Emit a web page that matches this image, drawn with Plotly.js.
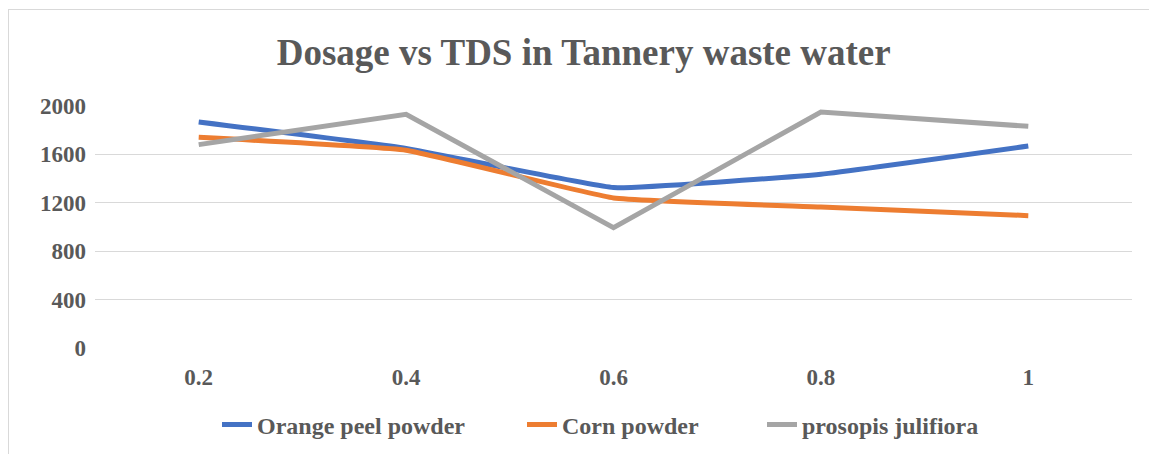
<!DOCTYPE html>
<html>
<head>
<meta charset="utf-8">
<script src="https://cdn.plot.ly/plotly-3.0.1.min.js"></script>
<style>
  html, body { margin: 0; padding: 0; background: #fff; overflow: hidden; }
  #wrap { position: relative; width: 1149px; height: 454px; }
  #frame { position: absolute; left: 8px; top: 9px; width: 1200px; height: 500px; border: 1px solid #d9d9d9; box-sizing: border-box; pointer-events: none; }
  #chart { position: absolute; left: 0; top: 0; width: 1149px; height: 454px; }
</style>
</head>
<body>
<div id="wrap">
  <div id="chart"></div>
  <div id="frame"></div>
</div>
<script>
const dosage = ['0.2', '0.4', '0.6', '0.8', '1'];
const orangePeel = [1868, 1650, 1326, 1436, 1669];
const cornPowder = [1741, 1634, 1240, 1165, 1094];
const prosopis = [1681, 1931, 995, 1950, 1832];
const seriesNames = ['Orange peel powder', 'Corn powder', 'prosopis julifiora'];
const yTicks = [0, 400, 800, 1200, 1600, 2000];

const font = '"Liberation Serif", "Times New Roman", serif';
const txt = '#595959';
const b = s => '<b>' + s + '</b>';

const traces = [
  { x: dosage, y: orangePeel, name: b(seriesNames[0]), type: 'scatter', mode: 'lines', legend: 'legend',
    line: { color: '#4472C4', width: 5, shape: 'spline', smoothing: 0.3 } },
  { x: dosage, y: cornPowder, name: b(seriesNames[1]), type: 'scatter', mode: 'lines', legend: 'legend2',
    line: { color: '#ED7D31', width: 5, shape: 'spline', smoothing: 0.3 } },
  { x: dosage, y: prosopis, name: b(seriesNames[2]), type: 'scatter', mode: 'lines', legend: 'legend3',
    line: { color: '#A5A5A5', width: 5 } }
];

const W = 1149, H = 454;
const plotL = 95, plotW = 1037, plotT = 106, plotH = 242;
const cx = px => px / W;
const cy = py => 1 - py / H;
const legFont = { family: font, size: 24, color: txt };
const legBase = { orientation: 'h', xanchor: 'left', yanchor: 'middle', xref: 'container', yref: 'container',
  font: legFont, bgcolor: 'rgba(0,0,0,0)' };
const legendY = cy(425);

const layout = {
  width: W, height: H,
  margin: { l: plotL, r: W - plotL - plotW, t: plotT, b: H - plotT - plotH, autoexpand: false },
  paper_bgcolor: 'rgba(0,0,0,0)',
  plot_bgcolor: 'rgba(0,0,0,0)',
  font: { family: font, color: txt, size: 23 },
  title: { text: b('Dosage vs TDS in Tannery waste water'), font: { family: font, size: 37, color: txt },
    x: 0.508, xanchor: 'center', y: cy(52), yanchor: 'middle', yref: 'container' },
  xaxis: { type: 'category', range: [-0.5, 4.5], showgrid: false, zeroline: false, showline: false,
    ticks: '', tickfont: { family: font, size: 23, color: txt }, ticklabelstandoff: 13,
    tickprefix: '<b>', ticksuffix: '</b>' },
  yaxis: { range: [0, 2000], tickvals: yTicks, ticktext: yTicks.map(v => b(v)),
    showgrid: true, gridcolor: '#d9d9d9', gridwidth: 1.3, zeroline: false, showline: false,
    ticks: '', tickfont: { family: font, size: 23, color: txt }, ticklabelstandoff: 8 },
  showlegend: true,
  legend: Object.assign({}, legBase, { x: cx(258 - 41), y: legendY }),
  legend2: Object.assign({}, legBase, { x: cx(563 - 41), y: legendY }),
  legend3: Object.assign({}, legBase, { x: cx(803 - 41), y: legendY }),
  hovermode: false
};

Plotly.newPlot('chart', traces, layout, { displayModeBar: false, staticPlot: true });
</script>
</body>
</html>
